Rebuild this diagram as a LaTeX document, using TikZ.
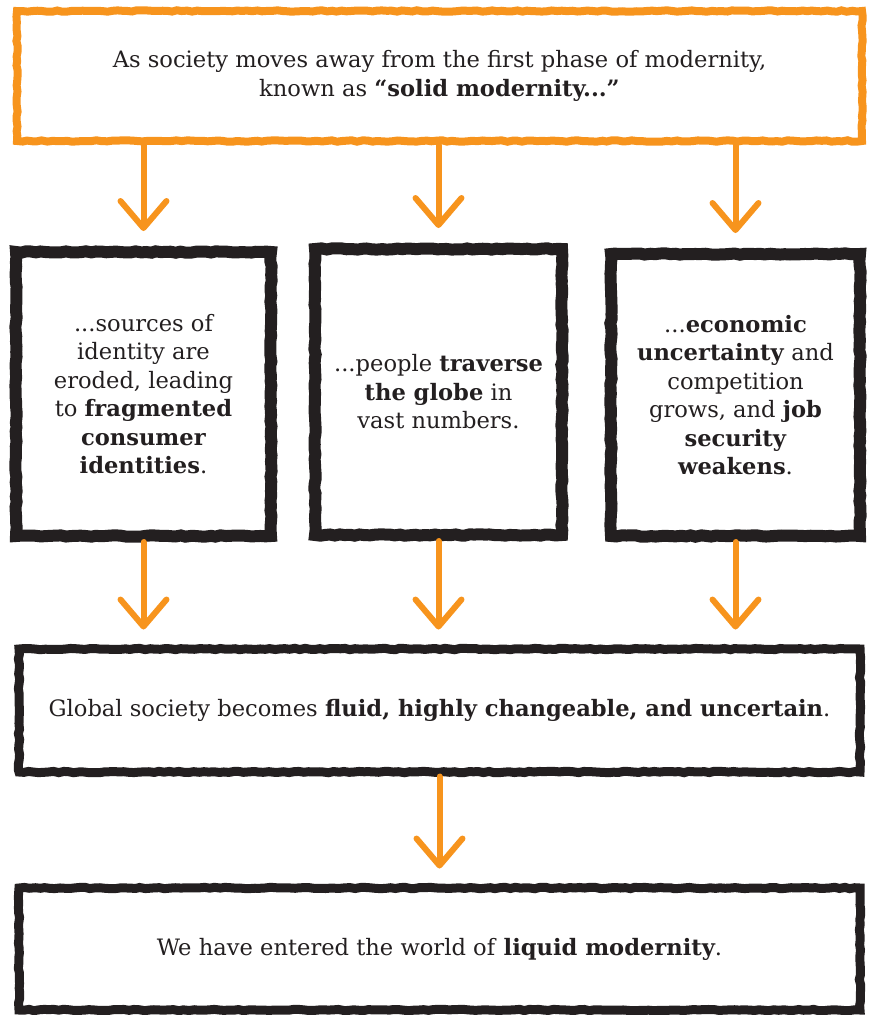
\documentclass[tikz,border=0pt]{standalone}
\usepackage{fontspec}
\setmainfont{DejaVu Serif}
\usetikzlibrary{arrows.meta,decorations.pathmorphing}
\definecolor{orng}{HTML}{F7941D}
\definecolor{ink}{HTML}{231F20}
\begin{document}
\begin{tikzpicture}[x=1pt,y=-1pt,
  rough/.style={decorate,decoration={random steps,segment length=5pt,amplitude=0.7pt}},
  txt/.style={text=ink,align=center,font=\fontsize{22.6}{28.5}\selectfont},
  obox/.style={rough,draw=orng,line width=8pt,txt,inner sep=0pt},
  kbox/.style={rough,draw=ink,line width=12pt,txt,inner sep=0pt},
  kwide/.style={rough,draw=ink,line width=9pt,txt,inner sep=0pt},
  oarrow/.style={draw=orng,line width=6pt,line cap=round,-{Straight Barb[length=27pt,width=46pt,round]},shorten >=15pt}]
\useasboundingbox (0,0) rectangle (871,1015);
\node[obox,minimum width=845pt,minimum height=130pt] (top) at (439.5,76)
  {As society moves away from the first phase of modernity,\\known as \textbf{“solid modernity...”}};
\node[kbox,minimum width=255pt,minimum height=284pt] (b1) at (143.5,394)
  {...sources of\\identity are\\eroded, leading\\to \textbf{fragmented}\\\textbf{consumer}\\\textbf{identities}.};
\node[kbox,minimum width=247pt,minimum height=286pt] (b2) at (438.5,392)
  {...people \textbf{traverse}\\\textbf{the globe} in\\vast numbers.};
\node[kbox,minimum width=249pt,minimum height=282pt] (b3) at (735.5,395)
  {...\textbf{economic}\\\textbf{uncertainty} and\\competition\\grows, and \textbf{job}\\\textbf{security}\\\textbf{weakens}.};
\node[kwide,minimum width=841pt,minimum height=123pt] (g) at (439.5,710.5)
  {Global society becomes \textbf{fluid, highly changeable, and uncertain}.};
\node[kwide,minimum width=841pt,minimum height=122pt] (l) at (439.5,949)
  {We have entered the world of \textbf{liquid modernity}.};
\foreach \b in {b1,b2,b3}{
  \draw[oarrow] (top.south -| \b.north) -- (\b.north);
  \draw[oarrow] (\b.south) -- (g.north -| \b.south);
}
\draw[oarrow] (g.south) -- (l.north);
\end{tikzpicture}
\end{document}
